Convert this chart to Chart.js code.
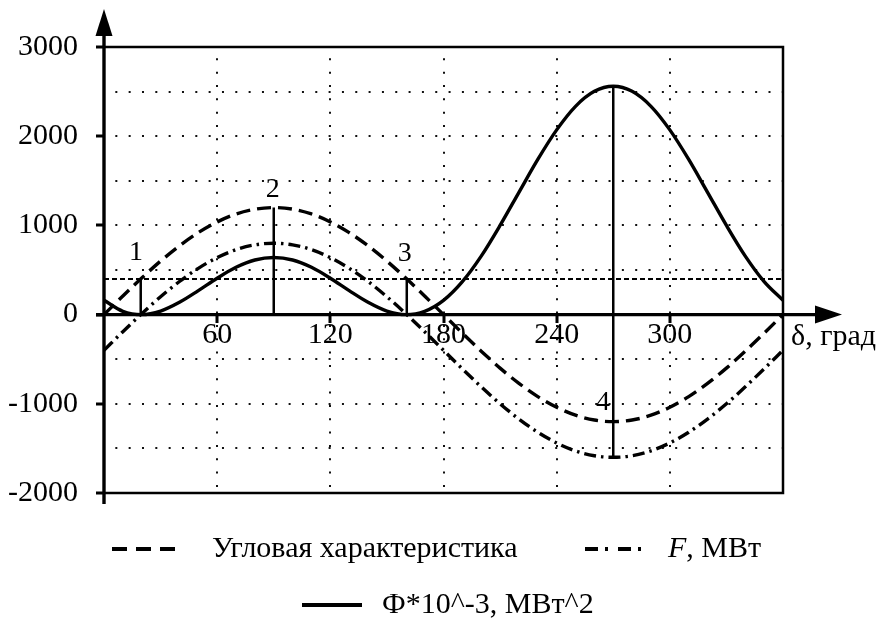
<!DOCTYPE html>
<html>
<head>
<meta charset="utf-8">
<script src="https://cdn.jsdelivr.net/npm/chart.js@4.4.1/dist/chart.umd.min.js"></script>
<style>
html,body{margin:0;padding:0;background:#fff;}
canvas{display:block;}
</style>
</head>
<body>
<canvas id="chart" width="879" height="621"></canvas>
<script>
// ---- data ----
const deltaDeg = [0,10,20,30,40,50,60,70,80,90,100,110,120,130,140,150,160,170,180,
  190,200,210,220,230,240,250,260,270,280,290,300,310,320,330,340,350,360];
const angleCharacteristic = [0,208,410,600,771,919,1039,1128,1182,1200,1182,1128,1039,919,771,600,410,208,0,
  -208,-410,-600,-771,-919,-1039,-1128,-1182,-1200,-1182,-1128,-1039,-919,-771,-600,-410,-208,0];
const forceF = [-400,-192,10,200,371,519,639,728,782,800,782,728,639,519,371,200,10,-192,-400,
  -608,-810,-1000,-1171,-1319,-1439,-1528,-1582,-1600,-1582,-1528,-1439,-1319,-1171,-1000,-810,-608,-400];
const phiScaled = [160,37,0,40,138,269,408,530,612,640,612,530,408,269,138,40,0,37,160,
  370,656,1000,1371,1740,2071,2335,2503,2560,2503,2335,2071,1740,1371,1000,656,370,160];
const seriesNames = ['Угловая характеристика', 'F, МВт', 'Ф*10^-3, МВт^2'];

const xTickValues = [0,60,120,180,240,300,360];
const xTickLabels = ['', '60', '120', '180', '240', '300', ''];
const yTickValues = [-2000,-1500,-1000,-500,0,500,1000,1500,2000,2500,3000];
const yTickLabels = ['-2000','','-1000','','0','','1000','','2000','','3000'];
const xAxisTitle = 'δ, град';

const levelDelta = [0, 360];
const levelValue = [400, 400];

const markerDelta = [19.47, 90, 160.53, 270];
const markerFrom = [0, 0, 0, -1600];
const markerTo = [400, 1200, 400, 2560];
const markerNames = ['1', '2', '3', '4'];
const markerLabelDelta = [17, 89.5, 159.5, 264.5];
const markerLabelValue = [700, 1400, 680, -990];

// ---- helpers ----
const SERIF = '"Liberation Serif", "Times New Roman", serif';
const pts = (xs, ys) => xs.map((v, i) => ({x: v, y: ys[i]}));
const markerPoints = [];
markerDelta.forEach((d, i) => {
  markerPoints.push({x: d, y: markerFrom[i]}, {x: d, y: markerTo[i]}, {x: d, y: null});
});

const legendLayout = [
  {series: 0, y: 549, x1: 112, x2: 175, tx: 212, dash: [15, 9]},
  {series: 1, y: 549, x1: 585, x2: 645, tx: 668, dash: [13, 7, 3, 10]},
  {series: 2, y: 605, x1: 302, x2: 362, tx: 382, dash: []}
];

const decorPlugin = {
  id: 'decor',
  afterDraw(chart) {
    const {ctx, chartArea: a, scales: {x, y}} = chart;
    const x0 = x.getPixelForValue(0);
    const y0 = y.getPixelForValue(0);
    ctx.save();
    ctx.strokeStyle = '#000';
    ctx.fillStyle = '#000';
    ctx.setLineDash([]);
    // frame
    ctx.lineWidth = 2.5;
    ctx.beginPath();
    ctx.moveTo(a.left, a.top);
    ctx.lineTo(a.right, a.top);
    ctx.lineTo(a.right, a.bottom);
    ctx.lineTo(a.left, a.bottom);
    ctx.stroke();
    // y axis with arrow
    ctx.lineWidth = 3.4;
    ctx.beginPath();
    ctx.moveTo(x0, a.bottom + 11);
    ctx.lineTo(x0, a.top - 14);
    ctx.stroke();
    ctx.beginPath();
    ctx.moveTo(x0, a.top - 38);
    ctx.lineTo(x0 - 8.5, a.top - 11);
    ctx.lineTo(x0 + 8.5, a.top - 11);
    ctx.closePath();
    ctx.fill();
    // x axis with arrow
    ctx.beginPath();
    ctx.moveTo(a.left - 8, y0);
    ctx.lineTo(a.right + 34, y0);
    ctx.stroke();
    ctx.beginPath();
    ctx.moveTo(a.right + 59, y0);
    ctx.lineTo(a.right + 32, y0 - 9);
    ctx.lineTo(a.right + 32, y0 + 9);
    ctx.closePath();
    ctx.fill();
    // x axis title
    ctx.font = '30px ' + SERIF;
    ctx.textAlign = 'left';
    ctx.textBaseline = 'middle';
    ctx.fillText(xAxisTitle, a.right + 8, y0 + 23);
    // marker labels
    ctx.font = '28px ' + SERIF;
    ctx.textAlign = 'center';
    markerNames.forEach((n, i) => {
      ctx.fillText(n, x.getPixelForValue(markerLabelDelta[i]), y.getPixelForValue(markerLabelValue[i]));
    });
    // legend
    legendLayout.forEach(item => {
      const ds = chart.data.datasets[item.series];
      ctx.save();
      ctx.lineWidth = 4;
      ctx.lineCap = 'butt';
      ctx.setLineDash(item.dash);
      ctx.beginPath();
      ctx.moveTo(item.x1, item.y);
      ctx.lineTo(item.x2, item.y);
      ctx.stroke();
      ctx.restore();
      ctx.textAlign = 'left';
      ctx.textBaseline = 'middle';
      const label = ds.label;
      if (label.startsWith('F,')) {
        ctx.font = 'italic 30px ' + SERIF;
        ctx.fillText('F', item.tx, item.y);
        const w = ctx.measureText('F').width;
        ctx.font = '30px ' + SERIF;
        ctx.fillText(label.slice(1), item.tx + w, item.y);
      } else {
        ctx.font = '30px ' + SERIF;
        ctx.fillText(label, item.tx, item.y);
      }
    });
    ctx.restore();
  }
};

const lineBase = {
  borderColor: '#000',
  backgroundColor: '#000',
  pointRadius: 0,
  fill: false,
  cubicInterpolationMode: 'monotone',
  borderCapStyle: 'butt'
};

new Chart(document.getElementById('chart'), {
  type: 'line',
  data: {
    datasets: [
      Object.assign({}, lineBase, {label: seriesNames[0], data: pts(deltaDeg, angleCharacteristic), borderWidth: 3.4, borderDash: [14, 7]}),
      Object.assign({}, lineBase, {label: seriesNames[1], data: pts(deltaDeg, forceF), borderWidth: 3.4, borderDash: [12, 5, 2.5, 5]}),
      Object.assign({}, lineBase, {label: seriesNames[2], data: pts(deltaDeg, phiScaled), borderWidth: 3.4}),
      Object.assign({}, lineBase, {label: 'level', data: pts(levelDelta, levelValue), borderWidth: 2, borderDash: [5, 3], tension: 0}),
      Object.assign({}, lineBase, {label: 'markers', data: markerPoints, borderWidth: 2.5, spanGaps: false, tension: 0})
    ]
  },
  options: {
    responsive: false,
    animation: false,
    devicePixelRatio: 1,
    parsing: true,
    layout: {padding: {left: 8, right: 96, top: 47, bottom: 128}},
    plugins: {legend: {display: false}, tooltip: {enabled: false}},
    scales: {
      x: {
        type: 'linear',
        min: 0, max: 360,
        position: {y: 0},
        afterBuildTicks: s => { s.ticks = xTickValues.map(v => ({value: v})); },
        afterFit: s => { s.height = 0; },
        ticks: {
          autoSkip: false, maxRotation: 0,
          color: '#000',
          padding: -2,
          font: {family: SERIF, size: 30, lineHeight: 1},
          callback: v => { const i = xTickValues.indexOf(v); return i >= 0 ? xTickLabels[i] : ''; }
        },
        grid: {
          color: '#111',
          lineWidth: c => (c.tick && (c.tick.value === 0 || c.tick.value === 360)) ? 0 : 2,
          tickLength: 8,
          tickWidth: 3,
          tickColor: c => (c.tick && (c.tick.value === 0 || c.tick.value === 360)) ? 'rgba(0,0,0,0)' : '#000',
          tickBorderDash: []
        },
        border: {display: false, dash: [2, 11.33], dashOffset: 2}
      },
      y: {
        type: 'linear',
        min: -2000, max: 3000,
        position: 'left',
        afterBuildTicks: s => { s.ticks = yTickValues.map(v => ({value: v})); },
        afterFit: s => { s.width = 96; },
        ticks: {
          autoSkip: false,
          color: '#000',
          padding: 18,
          font: {family: SERIF, size: 30, lineHeight: 1},
          callback: v => { const i = yTickValues.indexOf(v); return i >= 0 ? yTickLabels[i] : ''; }
        },
        grid: {
          color: '#111',
          lineWidth: c => (c.tick && [0, 3000, -2000].includes(c.tick.value)) ? 0 : 2,
          tickLength: 8,
          tickWidth: 3,
          tickColor: c => (c.tick && c.tick.value % 1000 === 0) ? '#000' : 'rgba(0,0,0,0)',
          tickBorderDash: []
        },
        border: {display: false, dash: [2, 11.33], dashOffset: 2}
      }
    }
  },
  plugins: [decorPlugin]
});
</script>
</body>
</html>
